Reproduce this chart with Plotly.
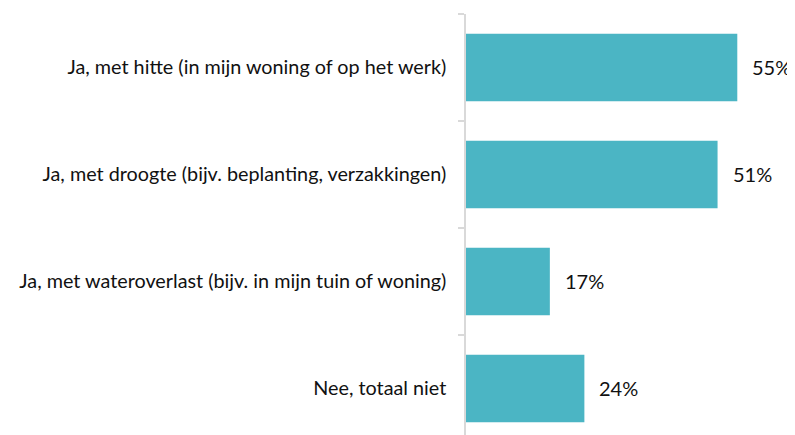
import plotly.graph_objects as go

categories = [
    "Ja, met hitte (in mijn woning of op het werk)",
    "Ja, met droogte (bijv. beplanting, verzakkingen)",
    "Ja, met wateroverlast (bijv. in mijn tuin of woning)",
    "Nee, totaal niet",
]
values = [55, 51, 17, 24]
labels = ["55%", "51%", "17%", "24%"]

BAR = "#4BB5C4"
FONT = "Lato"

fig = go.Figure(go.Bar(
    x=values, y=categories, orientation="h",
    marker=dict(color=BAR, line=dict(width=0)),
    hoverinfo="skip",
))

for c, v, t in zip(categories, values, labels):
    fig.add_annotation(x=v, y=c, text=t, showarrow=False, xanchor="left",
                       xshift=13, font=dict(family=FONT, size=20, color="#111111"))

# the page has an 8px body margin, so the figure is sized/offset to compensate
fig.update_layout(
    width=787, height=427,
    margin=dict(l=458, r=0, t=6, b=0, autoexpand=False),
    paper_bgcolor="white", plot_bgcolor="white",
    bargap=0.37, showlegend=False,
    font=dict(family=FONT, size=19.8, color="#111111"),
)
fig.update_xaxes(range=[0, 66.7], visible=False, automargin=False)
fig.update_yaxes(
    type="category", categoryorder="array", categoryarray=categories,
    range=[3.435, -0.5], tickson="boundaries", automargin=False,
    ticks="outside", ticklen=6, tickcolor="#d9d9d9", tickwidth=1.5,
    showline=True, linecolor="#d9d9d9", linewidth=1.5,
    showgrid=False, ticklabelstandoff=14,
    tickfont=dict(family=FONT, size=19.8, color="#111111"),
)

fig.write_html("out.html")
